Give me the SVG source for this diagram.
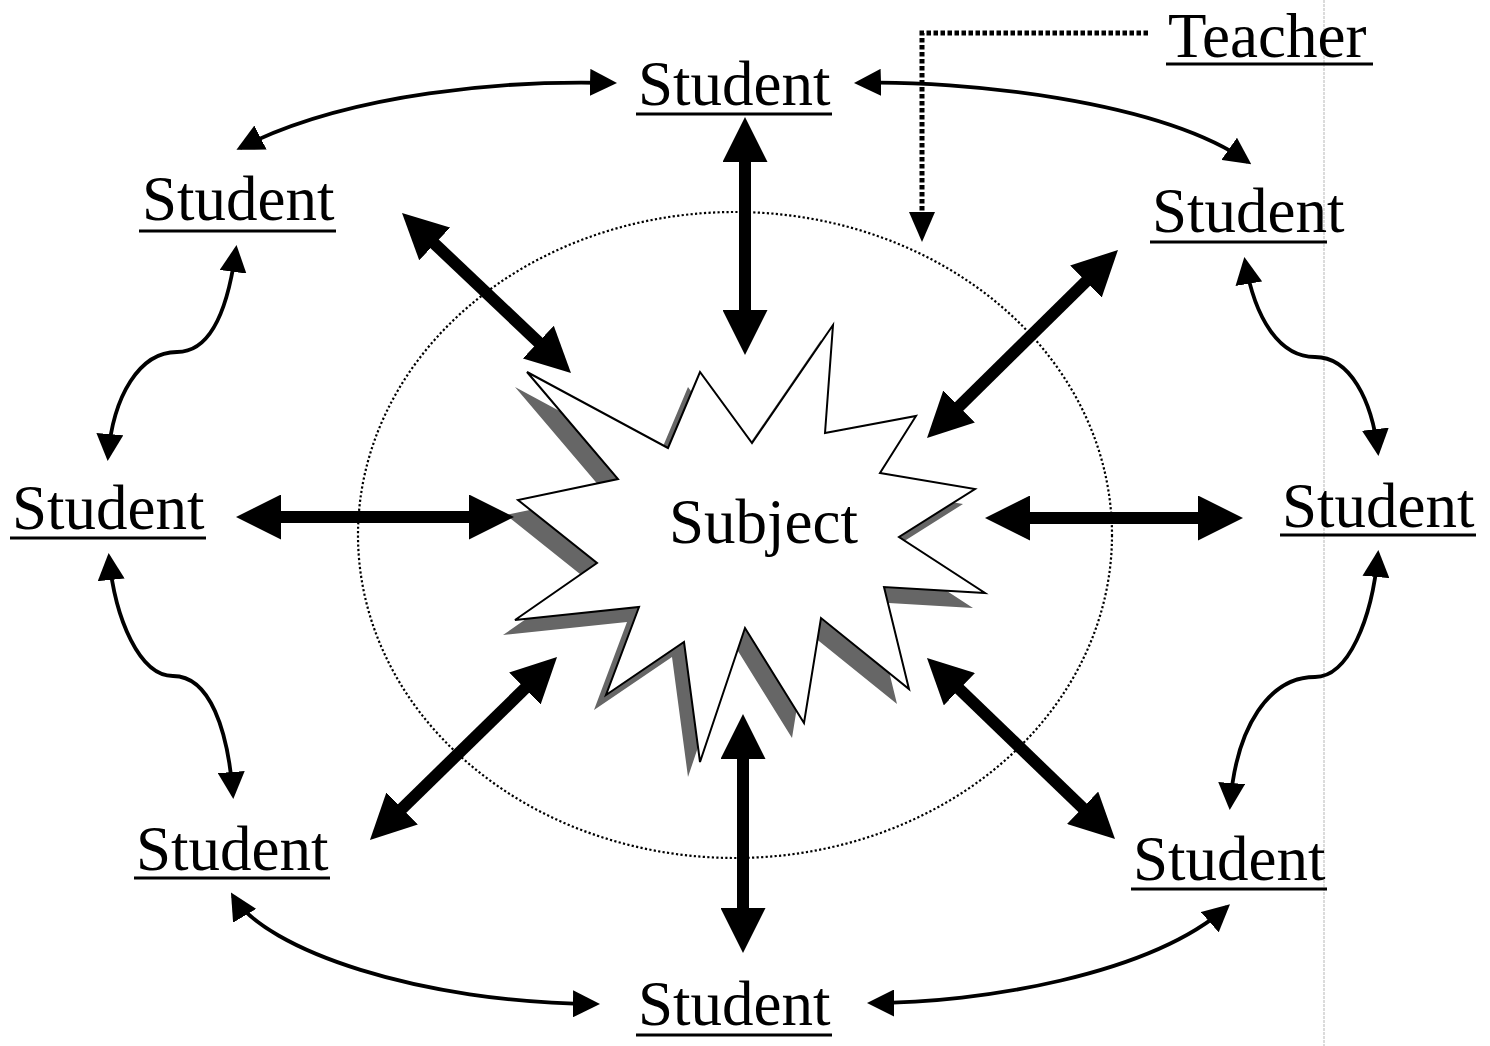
<svg xmlns="http://www.w3.org/2000/svg" width="1490" height="1046" viewBox="0 0 1490 1046">
<style>
.lbl{font-family:"Liberation Serif","Times New Roman",serif;font-size:63px;fill:#000}
.ul{stroke:#000;stroke-width:3}
.thin{fill:none;stroke:#000;stroke-width:3.8;marker-start:url(#ah);marker-end:url(#ah)}
.thick{fill:none;stroke:#000;stroke-width:12;marker-start:url(#big);marker-end:url(#big)}
</style>
<defs>
<marker id="ah" markerUnits="userSpaceOnUse" markerWidth="27" markerHeight="27" refX="23" refY="13.5" orient="auto-start-reverse"><path d="M0,0 L27,13.5 L0,27 Z" fill="#000"/></marker>
<marker id="big" markerUnits="userSpaceOnUse" markerWidth="45" markerHeight="45" refX="15" refY="22.5" orient="auto-start-reverse"><path d="M0,0 L45,22.5 L0,45 Z" fill="#000"/></marker>
<marker id="dah" markerUnits="userSpaceOnUse" markerWidth="30" markerHeight="26" refX="0" refY="13" orient="auto"><path d="M0,0 L30,13 L0,26 Z" fill="#000"/></marker>
</defs>
<rect width="1490" height="1046" fill="#fff"/>
<line x1="1324" y1="0" x2="1324" y2="1046" stroke="#c4c4c4" stroke-width="1.2" stroke-dasharray="3 1"/>
<ellipse cx="735" cy="535" rx="377" ry="323" fill="none" stroke="#000" stroke-width="2.2" stroke-dasharray="2.2 2.3"/>
<g id="subject">
<polygon transform="translate(-12,15)" fill="#666" points="527,372 668,448 700,372 752,443 833,325 825,433 916,416 880,473 975,489 899,537 985,593 884,587 909,689 821,618 804,723 745,628 700,762 684,642 606,695 639,607 515,620 597,563 518,500 618,479"/>
<polygon fill="#fff" stroke="#000" stroke-width="2" stroke-linejoin="miter" points="527,372 668,448 700,372 752,443 833,325 825,433 916,416 880,473 975,489 899,537 985,593 884,587 909,689 821,618 804,723 745,628 700,762 684,642 606,695 639,607 515,620 597,563 518,500 618,479"/>
<text class="lbl" x="669" y="543">Subject</text>
</g>
<g id="teacher"><text class="lbl" x="1168" y="57">Teacher</text><line class="ul" x1="1166" y1="64" x2="1373" y2="64"/></g>
<g id="student-top"><text class="lbl" x="638" y="105">Student</text><line class="ul" x1="636" y1="114" x2="832" y2="114"/></g>
<g id="student-upper-left"><text class="lbl" x="142" y="220">Student</text><line class="ul" x1="139" y1="231" x2="336" y2="231"/></g>
<g id="student-upper-right"><text class="lbl" x="1152" y="232">Student</text><line class="ul" x1="1150" y1="242" x2="1327" y2="242"/></g>
<g id="student-left"><text class="lbl" x="12" y="529">Student</text><line class="ul" x1="10" y1="538" x2="206" y2="538"/></g>
<g id="student-right"><text class="lbl" x="1282" y="527">Student</text><line class="ul" x1="1280" y1="535" x2="1476" y2="535"/></g>
<g id="student-lower-left"><text class="lbl" x="136" y="870">Student</text><line class="ul" x1="134" y1="878" x2="330" y2="878"/></g>
<g id="student-lower-right"><text class="lbl" x="1133" y="880">Student</text><line class="ul" x1="1131" y1="889" x2="1327" y2="889"/></g>
<g id="student-bottom"><text class="lbl" x="638" y="1025">Student</text><line class="ul" x1="636" y1="1035" x2="832" y2="1035"/></g>
<g id="connectors">
<path d="M1148,33 L922,33 L922,212" fill="none" stroke="#000" stroke-width="5" stroke-dasharray="4.5 2.5" marker-end="url(#dah)"/>
<path class="thick" d="M745,147 L745,325"/>
<path class="thick" d="M743,744 L743,923"/>
<path class="thick" d="M266,517 L484,517"/>
<path class="thick" d="M1015,518 L1213,518"/>
<path class="thick" d="M423.8,233.6 L549.2,352.4"/>
<path class="thick" d="M1096.6,271 L948.4,417"/>
<path class="thick" d="M535.6,678 L391.4,819"/>
<path class="thick" d="M948.6,678.8 L1093.4,818.2"/>
<path class="thin" d="M613,83 C510,80 350,92 240,148"/>
<path class="thin" d="M858,83 C960,80 1160,100 1248,162"/>
<path class="thin" d="M236,249 C228,310 210,352 177,352 C140,352 113,395 108,457"/>
<path class="thin" d="M109,557 C115,620 140,676 173,676 C210,676 228,730 233,795"/>
<path class="thin" d="M1245,261 C1255,320 1280,357 1315,357 C1350,357 1372,400 1378,452"/>
<path class="thin" d="M1378,554 C1372,620 1348,677 1315,677 C1270,677 1236,725 1230,806"/>
<path class="thin" d="M233,896 C265,950 420,1003 596,1004"/>
<path class="thin" d="M871,1003 C980,1003 1150,975 1227,907"/>
</g>
</svg>
